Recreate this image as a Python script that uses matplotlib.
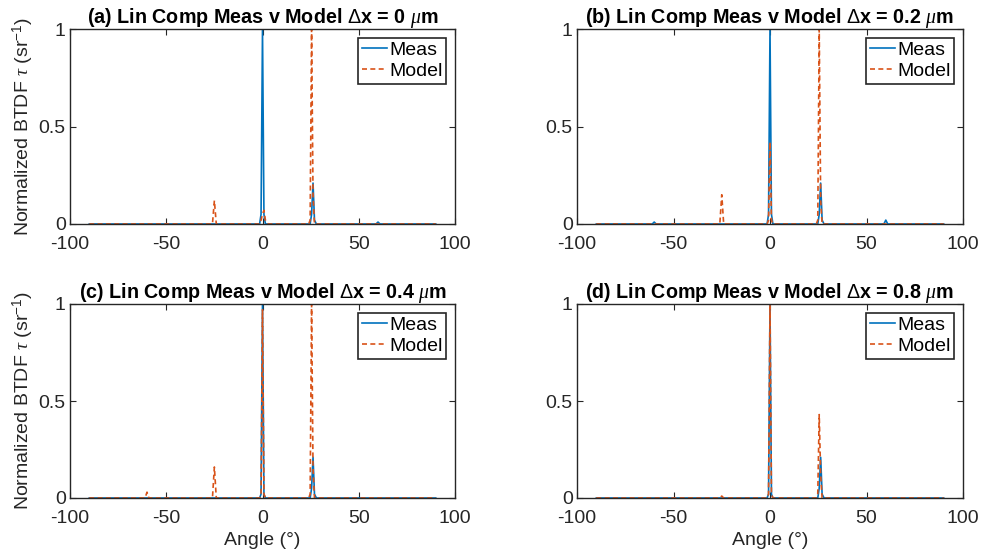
import numpy as np
import matplotlib
matplotlib.use("Agg")
import matplotlib.pyplot as plt

plt.rcParams['font.family'] = ['Liberation Sans', 'DejaVu Sans']
plt.rcParams['mathtext.fontset'] = 'custom'
plt.rcParams['mathtext.it'] = 'Liberation Serif:italic'
plt.rcParams['mathtext.rm'] = 'Liberation Sans'
plt.rcParams['axes.unicode_minus'] = False

# shared angle grid (deg)
angle = [-90, -61, -60, -59, -27, -26, -25, -24, -3, -1.5, -0.75, 0, 0.75,
         1.5, 3, 24, 24.75, 25.5, 26.25, 27, 28, 59, 60, 61, 90]

meas_a = [0, 0, 0, 0, 0, 0, 0, 0, 0, 0, 0.05, 1.0, 0.05,
          0, 0, 0, 0, 0.05, 0.21, 0.02, 0, 0, 0.01, 0, 0]
model_a = [0, 0, 0, 0, 0, 0, 0.12, 0, 0, 0, 0.02, 0.05, 0.07,
           0.02, 0, 0, 0.02, 1.0, 0.15, 0, 0, 0, 0, 0, 0]

meas_b = [0, 0, 0.01, 0, 0, 0, 0, 0, 0, 0, 0.05, 1.0, 0.05,
          0, 0, 0, 0, 0.05, 0.21, 0.02, 0, 0, 0.02, 0, 0]
model_b = [0, 0, 0, 0, 0, 0, 0.15, 0, 0, 0, 0.02, 0.42, 0.02,
           0, 0, 0, 0.02, 1.0, 0.12, 0, 0, 0, 0, 0, 0]

meas_c = [0, 0, 0, 0, 0, 0, 0, 0, 0, 0, 0.02, 1.0, 0.02,
          0, 0, 0, 0, 0.05, 0.21, 0.02, 0, 0, 0, 0, 0]
model_c = [0, 0, 0.03, 0, 0, 0, 0.16, 0, 0, 0, 0.02, 0.97, 0.02,
           0, 0, 0, 0.02, 1.0, 0.15, 0, 0, 0, 0, 0, 0]

meas_d = [0, 0, 0, 0, 0, 0, 0, 0, 0, 0, 0.02, 1.0, 0.02,
          0, 0, 0, 0, 0.05, 0.21, 0.02, 0, 0, 0, 0, 0]
model_d = [0, 0, 0, 0, 0, 0, 0.01, 0, 0, 0, 0.02, 1.0, 0.02,
           0, 0, 0, 0.02, 0.43, 0.12, 0, 0, 0, 0, 0, 0]

titles = [r'(a) Lin Comp Meas v Model $\Delta$x = 0 $\mu$m',
          r'(b) Lin Comp Meas v Model $\Delta$x = 0.2 $\mu$m',
          r'(c) Lin Comp Meas v Model $\Delta$x = 0.4 $\mu$m',
          r'(d) Lin Comp Meas v Model $\Delta$x = 0.8 $\mu$m']
meas_all = [meas_a, meas_b, meas_c, meas_d]
model_all = [model_a, model_b, model_c, model_d]

fig = plt.figure(figsize=(9.81, 5.59), dpi=100)

W, H = 981, 559
boxes = [(70, 29, 455, 224), (577, 29, 963, 224),
         (70, 304, 455, 498), (577, 304, 963, 498)]

axcol = '#262626'
fs = 14
for i in range(4):
    x0, y0, x1, y1 = boxes[i]
    ax = fig.add_axes([x0 / W, 1 - y1 / H, (x1 - x0) / W, (y1 - y0) / H])
    ax.plot(angle, meas_all[i], color='#0072BD', lw=1.2, label='Meas')
    ax.plot(angle, model_all[i], color='#D95319', lw=1.2, ls='--',
            dashes=(3, 2), label='Model')
    ax.set_xlim(-100, 100)
    ax.set_ylim(0, 1)
    ax.set_xticks([-100, -50, 0, 50, 100])
    ax.set_yticks([0, 0.5, 1])
    ax.set_yticklabels(['0', '0.5', '1'])
    ax.tick_params(direction='in', top=True, right=True, labelsize=fs,
                   colors=axcol, length=4)
    ax.tick_params(axis='x', pad=8.5)
    ax.tick_params(axis='y', pad=3)
    for s in ax.spines.values():
        s.set_color(axcol)
        s.set_linewidth(1.0)
    ax.set_title(titles[i], fontsize=14.2, fontweight='bold', pad=4)
    if i % 2 == 0:
        ax.set_ylabel(r'Normalized BTDF $\tau$ (sr$^{-1}$)', fontsize=fs,
                      color=axcol, labelpad=2)
    if i >= 2:
        ax.set_xlabel('Angle (°)', fontsize=fs, color=axcol, labelpad=4)
    leg = ax.legend(loc='upper right', fontsize=fs, handlelength=1.3,
                    handletextpad=0.1, borderpad=0.2, labelspacing=0.15,
                    fancybox=False, framealpha=1, borderaxespad=0.45)
    leg.get_frame().set_edgecolor(axcol)
    leg.get_frame().set_linewidth(1.2)

fig.savefig('out.png', dpi=100)
